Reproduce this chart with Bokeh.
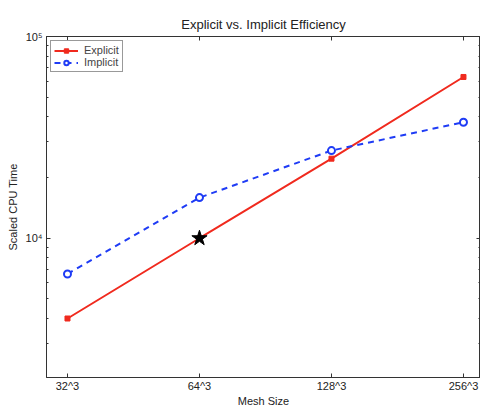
from bokeh.plotting import figure
from bokeh.models import (FixedTicker, LinearAxis, LogAxis, Range1d, Legend, LegendItem,
                          CustomJSTickFormatter)
from bokeh.embed import file_html
from bokeh.resources import INLINE

categories = ["32^3", "64^3", "128^3", "256^3"]
explicit = [4000, 10000, 24800, 63000]
implicit = [6650, 15900, 27200, 37600]
star_cat = "64^3"
star_val = 10000

xi = list(range(len(categories)))
FONT = "Liberation Sans"
AX = "#333333"

p = figure(width=480, height=409, output_backend="svg", toolbar_location=None,
           y_axis_type="log", x_range=Range1d(-0.159, 3.129), y_range=Range1d(2040, 100000),
           min_border_left=46, min_border_right=0, min_border_top=36, min_border_bottom=26)
p.title.text = "Explicit vs. Implicit Efficiency"
p.title.align = "center"
p.title.text_font = FONT
p.title.text_font_size = "13px"
p.title.text_font_style = "normal"
p.title.text_color = "#222222"
p.title.standoff = 9
p.grid.visible = False
p.outline_line_color = AX
p.outline_line_width = 1

minor = [m * 10**e for e in (3, 4) for m in range(2, 10)]
yt = FixedTicker(ticks=[1e4, 1e5], minor_ticks=minor)
xt = FixedTicker(ticks=xi, minor_ticks=[])

def style(ax, labels=True):
    ax.major_tick_in = 4
    ax.major_tick_out = 0
    ax.minor_tick_in = 2
    ax.minor_tick_out = 0
    ax.axis_line_color = AX
    ax.major_tick_line_color = AX
    ax.minor_tick_line_color = AX
    ax.major_label_text_font = FONT
    ax.major_label_text_font_size = "11px"
    ax.major_label_text_color = "#222222"
    ax.axis_label_text_font = FONT
    ax.axis_label_text_font_size = "11px"
    ax.axis_label_text_font_style = "normal"
    ax.axis_label_text_color = "#222222"
    ax.major_label_standoff = 2
    ax.axis_label_standoff = 0
    if not labels:
        ax.formatter = CustomJSTickFormatter(code="return '';")
        ax.major_label_standoff = 0

xa = p.xaxis[0]
xa.ticker = xt
xa.major_label_overrides = {i: c for i, c in enumerate(categories)}
xa.axis_label = "Mesh Size"
style(xa)
ya = p.yaxis[0]
ya.ticker = yt
ya.major_label_overrides = {1e4: "10⁴", 1e5: "10⁵"}
ya.axis_label = "Scaled CPU Time"
style(ya)
ya.major_label_standoff = 4
ya.axis_label_standoff = 4

top = LinearAxis(ticker=xt)
style(top, labels=False)
p.add_layout(top, "above")
right = LogAxis(ticker=yt)
style(right, labels=False)
p.add_layout(right, "right")

RED = "#f02a1e"
BLUE = "#1f3cf5"
r1 = p.line(xi, explicit, line_color=RED, line_width=2)
s1 = p.scatter(xi, explicit, marker="square", size=5, fill_color=RED, line_color=RED)
r2 = p.line(xi, implicit, line_color=BLUE, line_width=2, line_dash="6 5")
s2 = p.scatter(xi, implicit, marker="circle", size=7, fill_color="white", line_color=BLUE, line_width=2)
p.scatter([categories.index(star_cat)], [star_val], marker="star", size=16,
          fill_color="black", line_color="black")

legend = Legend(items=[LegendItem(label="Explicit", renderers=[r1, s1]),
                       LegendItem(label="Implicit", renderers=[r2, s2])],
                location="top_left")
legend.label_text_font = FONT
legend.label_text_font_size = "11px"
legend.label_height = 11
legend.glyph_height = 11
legend.glyph_width = 24
legend.spacing = 0
legend.padding = 3
legend.margin = 4
legend.border_line_color = AX
legend.border_line_width = 1
legend.label_standoff = 6
p.add_layout(legend)

open("out.html", "w").write(file_html(p, INLINE))
